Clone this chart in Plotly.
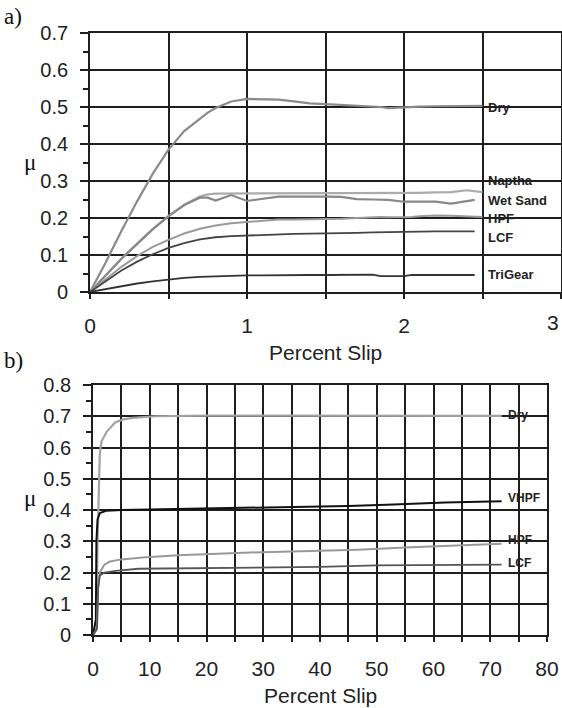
import plotly.graph_objects as go

# ---------------- panel a) data ----------------
slip_a = [0, 0.1, 0.2, 0.3, 0.4, 0.5, 0.6, 0.7, 0.75, 0.8, 0.9, 1.0, 1.1, 1.2, 1.3, 1.4, 1.5,
          1.6, 1.7, 1.8, 1.85, 1.9, 2.0, 2.05, 2.1, 2.2, 2.3, 2.4, 2.45, 2.5]
dry_a = [0, 0.08, 0.165, 0.245, 0.32, 0.385, 0.435, 0.47, 0.485, 0.497, 0.515, 0.522, 0.521, 0.52,
         0.515, 0.51, 0.508, 0.506, 0.505, 0.503, 0.5, 0.497, 0.5, 0.5, 0.501, 0.502, 0.502, 0.503, 0.503, 0.503]
naptha_a = [0, 0.045, 0.09, 0.13, 0.17, 0.205, 0.235, 0.258, 0.264, 0.266, 0.266, 0.267, 0.267, 0.267,
            0.267, 0.268, 0.268, 0.268, 0.268, 0.268, 0.268, 0.268, 0.268, 0.268, 0.268, 0.269, 0.27, 0.275, 0.273, 0.27]
wetsand_a = [0, 0.045, 0.09, 0.13, 0.17, 0.205, 0.235, 0.255, 0.255, 0.247, 0.262, 0.246, 0.252, 0.258,
             0.258, 0.259, 0.258, 0.257, 0.251, 0.25, 0.25, 0.249, 0.244, 0.244, 0.244, 0.244, 0.239, 0.245, 0.249, None]
hpf_a = [0, 0.035, 0.068, 0.097, 0.122, 0.141, 0.158, 0.171, 0.176, 0.18, 0.186, 0.19, 0.193, 0.196,
         0.196, 0.196, 0.197, 0.198, 0.2, 0.203, 0.203, 0.202, 0.202, 0.203, 0.205, 0.207, 0.206, 0.205, 0.204, 0.203]
lcf_a = [0, 0.03, 0.058, 0.082, 0.102, 0.119, 0.132, 0.142, 0.146, 0.148, 0.151, 0.153, 0.154, 0.156,
         0.157, 0.158, 0.158, 0.159, 0.16, 0.161, 0.161, 0.162, 0.163, 0.163, 0.163, 0.164, 0.164, 0.164, 0.164, None]
trigear_a = [0, 0.008, 0.016, 0.023, 0.029, 0.034, 0.038, 0.041, 0.042, 0.043, 0.044, 0.045, 0.045, 0.046,
             0.046, 0.046, 0.046, 0.047, 0.047, 0.047, 0.043, 0.043, 0.043, 0.046, 0.046, 0.046, 0.046, 0.046, 0.046, None]

# ---------------- panel b) data ----------------
slip_b_dry = [0, 0.6, 0.8, 1.0, 1.2, 1.5, 2.4, 3.9, 5.3, 7, 11, 20, 40, 60, 72]
dry_b = [0, 0.02, 0.3, 0.5, 0.58, 0.62, 0.65, 0.68, 0.69, 0.695, 0.7, 0.702, 0.702, 0.701, 0.701]
slip_b_vhpf = [0, 0.5, 0.6, 0.8, 1.2, 2.4, 5, 12, 20, 30, 37, 45, 53, 62, 72]
vhpf_b = [0, 0.05, 0.3, 0.37, 0.39, 0.398, 0.4, 0.402, 0.405, 0.408, 0.41, 0.413, 0.418, 0.424, 0.428]
slip_b_hpf = [0, 0.7, 0.9, 1.2, 2, 3, 5, 8.7, 15, 27.7, 40, 46.7, 55, 64, 70.8, 72]
hpf_b = [0, 0.02, 0.15, 0.2, 0.225, 0.235, 0.242, 0.248, 0.255, 0.264, 0.27, 0.273, 0.28, 0.286, 0.291, 0.292]
slip_b_lcf = [0, 0.7, 0.9, 1.2, 2, 4, 8, 20, 30, 40, 50, 60, 72]
lcf_b = [0, 0.02, 0.15, 0.19, 0.2, 0.205, 0.212, 0.215, 0.216, 0.218, 0.223, 0.224, 0.225]

labels_a = ["Dry", "Naptha", "Wet Sand", "HPF", "LCF", "TriGear"]
label_y_a = [0.498, 0.302, 0.248, 0.2, 0.146, 0.046]
labels_b = ["Dry", "VHPF", "HPF", "LCF"]
label_y_b = [0.703, 0.437, 0.304, 0.232]

W, H = 562, 708
fig = go.Figure()

series_a = [(dry_a, "#8a8a8a", 2.2), (naptha_a, "#ababab", 2.2), (wetsand_a, "#888888", 2.2),
            (hpf_a, "#9a9a9a", 2.0), (lcf_a, "#444444", 1.8), (trigear_a, "#333333", 1.8)]
for ys, col, w in series_a:
    fig.add_trace(go.Scatter(x=slip_a, y=ys, mode="lines", line=dict(color=col, width=w),
                             xaxis="x", yaxis="y", showlegend=False, connectgaps=False))

series_b = [(slip_b_dry, dry_b, "#a3a3a3", 2.2), (slip_b_vhpf, vhpf_b, "#111111", 2.0),
            (slip_b_hpf, hpf_b, "#999999", 2.0), (slip_b_lcf, lcf_b, "#555555", 1.8)]
for xs, ys, col, w in series_b:
    fig.add_trace(go.Scatter(x=xs, y=ys, mode="lines", line=dict(color=col, width=w),
                             xaxis="x2", yaxis="y2", showlegend=False))

gridc = "#1e1e1e"
tickfont = dict(family="Liberation Sans, Arial", size=20, color="#222")
xtickfont = dict(family="Liberation Sans, Arial", size=21, color="#222")

def px_x(p):
    return p / W

def px_y(p):
    return 1 - p / H

common = dict(showgrid=True, gridcolor=gridc, gridwidth=1.7, showline=True, linecolor=gridc,
              linewidth=1.7, mirror=True, zeroline=False, ticks="outside", tickcolor=gridc,
              tickwidth=1.5, automargin=False)

top_xvals = [0, 0.5, 1, 1.5, 2, 2.5, 3]
top_xtext = ["0", "", "1", "", "2", "", ""]
bot_xvals = [v for v in range(0, 85, 5)]
bot_xtext = [str(v) if v % 10 == 0 else "" for v in bot_xvals]

fig.update_layout(
    width=W, height=H, margin=dict(l=0, r=0, t=0, b=0),
    paper_bgcolor="white", plot_bgcolor="white",
    xaxis=dict(domain=[px_x(90), px_x(561)], range=[0, 3], anchor="y",
               tickvals=top_xvals, ticktext=top_xtext, ticklen=5, tickfont=xtickfont,
               ticklabelstandoff=9, **common),
    yaxis=dict(domain=[px_y(292), px_y(33)], range=[0, 0.7], anchor="x",
               tickvals=[0, 0.1, 0.2, 0.3, 0.4, 0.5, 0.6, 0.7],
               ticktext=["0", "0.1", "0.2", "0.3", "0.4", "0.5", "0.6", "0.7"],
               ticklen=8, tickfont=tickfont, ticklabelstandoff=8,
               minor=dict(tickvals=[0.05, 0.15, 0.25, 0.35, 0.45, 0.55, 0.65], ticks="outside",
                          ticklen=5, tickcolor=gridc, showgrid=False),
               **common),
    xaxis2=dict(domain=[px_x(93), px_x(547)], range=[0, 80], anchor="y2",
                tickvals=bot_xvals, ticktext=bot_xtext, ticklen=5, tickfont=xtickfont,
                ticklabelstandoff=9, **common),
    yaxis2=dict(domain=[px_y(635), px_y(385)], range=[0, 0.8], anchor="x2",
                tickvals=[0, 0.1, 0.2, 0.3, 0.4, 0.5, 0.6, 0.7, 0.8],
                ticktext=["0", "0.1", "0.2", "0.3", "0.4", "0.5", "0.6", "0.7", "0.8"],
                ticklen=8, tickfont=tickfont, ticklabelstandoff=8,
                minor=dict(tickvals=[0.05, 0.15, 0.25, 0.35, 0.45, 0.55, 0.65, 0.75], ticks="outside",
                           ticklen=5, tickcolor=gridc, showgrid=False),
                **common),
)

lab_font = dict(family="Liberation Sans, Arial", size=13, color="#222")
for t, y in zip(labels_a, label_y_a):
    fig.add_annotation(x=2.525, y=y, xref="x", yref="y", text="<b>%s</b>" % t, showarrow=False,
                       xanchor="left", yanchor="middle", font=lab_font)
lab_font_b = dict(family="Liberation Sans, Arial", size=12, color="#222")
for t, y in zip(labels_b, label_y_b):
    fig.add_annotation(x=72.8, y=y, xref="x2", yref="y2", text="<b>%s</b>" % t, showarrow=False,
                       xanchor="left", yanchor="middle", font=lab_font_b)

title_font = dict(family="Liberation Sans, Arial", size=21, color="#222")
serif = dict(family="Liberation Serif, Times New Roman", size=23, color="#111")
paper_text = [
    ("3", 553, 322, xtickfont, "center"),
    ("Percent Slip", 325, 352, title_font, "center"),
    ("Percent Slip", 320, 695, title_font, "center"),
    ("μ", 30, 162, serif, "center"),
    ("μ", 30, 498, serif, "center"),
    ("a)", 2, 16, serif, "left"),
    ("b)", 2, 360, serif, "left"),
]
for t, xp, yp, f, xa in paper_text:
    fig.add_annotation(x=px_x(xp), y=px_y(yp), xref="paper", yref="paper", text=t, showarrow=False,
                       xanchor=xa, yanchor="middle", font=f)

fig.write_html("out.html", config={"displayModeBar": False},
               post_script="document.body.style.margin='0';document.body.style.overflow='hidden';")
